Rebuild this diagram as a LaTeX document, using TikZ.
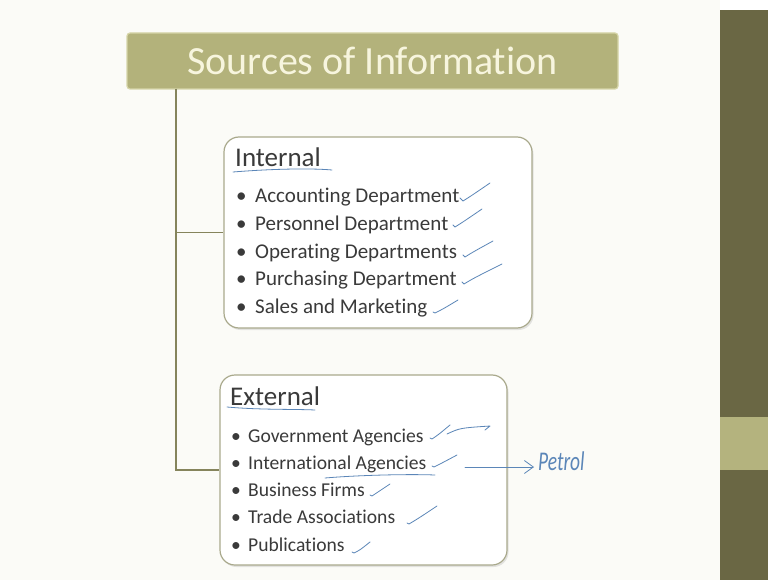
\documentclass[tikz,border=0pt]{standalone}
\usepackage{fontspec}
\setmainfont{Carlito}[Ligatures=NoCommon]
\usetikzlibrary{shadows,arrows.meta}

\definecolor{titlefill}{HTML}{B3B27B}
\definecolor{titleedge}{HTML}{D6D5A8}
\definecolor{titletext}{HTML}{F7F5DE}
\definecolor{paneledge}{HTML}{A9A98C}
\definecolor{branchcol}{HTML}{85845C}
\definecolor{inktext}{HTML}{3A3A3A}
\definecolor{penblue}{HTML}{5B86B8}
\definecolor{sidebar}{HTML}{6A6744}
\definecolor{sidelight}{HTML}{B4B37E}
\definecolor{slide}{HTML}{FBFBF7}

\begin{document}
\begin{tikzpicture}[x=1pt,y=-1pt]
    % Define styles
    \tikzstyle{heading}=[draw=titleedge, line width=1.2pt, fill=titlefill, rounded corners=3pt, minimum width=491pt, minimum height=56pt, text=titletext, font=\fontsize{40}{42}\selectfont]
    \tikzstyle{panel}=[draw=paneledge, line width=1.2pt, fill=white, rounded corners=15pt, drop shadow={opacity=0.2, shadow xshift=1.5pt, shadow yshift=-2pt}]
    \tikzstyle{branch}=[draw=branchcol, line width=1.5pt]
    \tikzstyle{caption}=[anchor=base west, inner sep=0pt, text=inktext, font=\fontsize{27}{29}\selectfont]
    \tikzstyle{item}=[anchor=base west, inner sep=0pt, text=inktext, font=\fontsize{21}{23}\selectfont]
    \tikzstyle{ink}=[draw=penblue, line width=0.8pt, line cap=round, line join=round]

    % Slide background and side bar
    \useasboundingbox (0,0) rectangle (768,580);
    \fill[slide] (0,0) rectangle (720,580);
    \fill[white] (720,0) rectangle (768,10);
    \fill[sidebar] (720,10) rectangle (768,580);
    \fill[sidelight] (720,417) rectangle (768,470);

    % Title bar
    \node[heading] (title) at (372.5,61) {Sources of Information};
    \coordinate (trunk) at (176,89);

    % Boxes
    \node[panel, minimum width=308pt, minimum height=191pt] (internal) at (378,232.5) {};
    \node[panel, minimum width=287pt, minimum height=190pt] (external) at (363.5,470) {};

    % Tree lines from the title
    \draw[branch] (trunk) |- (internal.west);
    \draw[branch] (trunk) |- (external.west);

    % Internal sources
    \node[caption] (intcap) at (235,167) {Internal};
    \node[item] (acc) at (236,203) {\makebox[19pt][l]{\textbullet}Accounting Department};
    \node[item] (pers) at (236,230.5) {\makebox[19pt][l]{\textbullet}Personnel Department};
    \node[item] (oper) at (236,258) {\makebox[19pt][l]{\textbullet}Operating Departments};
    \node[item] (purch) at (236,285.5) {\makebox[19pt][l]{\textbullet}Purchasing Department};
    \node[item] (sales) at (236,313) {\makebox[19pt][l]{\textbullet}Sales and Marketing};

    % External sources
    \node[caption] (extcap) at (230,405) {External};
    \node[item, font=\fontsize{19.6}{22}\selectfont] (gov) at (231,442) {\makebox[17pt][l]{\textbullet}Government Agencies};
    \node[item, font=\fontsize{19.6}{22}\selectfont] (intl) at (231,469) {\makebox[17pt][l]{\textbullet}International Agencies};
    \node[item, font=\fontsize{19.6}{22}\selectfont] (firms) at (231,496.5) {\makebox[17pt][l]{\textbullet}Business Firms};
    \node[item, font=\fontsize{19.6}{22}\selectfont] (trade) at (231,523.5) {\makebox[17pt][l]{\textbullet}Trade Associations};
    \node[item, font=\fontsize{19.6}{22}\selectfont] (pubs) at (231,551) {\makebox[17pt][l]{\textbullet}Publications};

    % Pen marks: underlines
    \draw[ink] (233,172) .. controls (270,169) and (310,168) .. (332,170);
    \draw[ink] (227,407) .. controls (260,410) and (295,409) .. (315,410);
    \draw[ink] (325,478) .. controls (360,475) and (410,474) .. (435,475);

    % Pen marks: ticks
    \draw[ink] (460,198) -- ++(3,3) .. controls +(8,-5) .. (490,183);
    \draw[ink] (453,225) -- ++(2,2) .. controls +(8,-5) .. (482,209);
    \draw[ink] (463,255) -- ++(2,2) .. controls +(8,-5) .. (493,241);
    \draw[ink] (462,282) -- ++(2,2) .. controls +(10,-6) .. (502,264);
    \draw[ink] (433,312) -- ++(2,1) .. controls +(8,-4) .. (458,300);
    \draw[ink] (430,438) -- ++(2,1) .. controls +(6,-4) .. (450,425);
    \draw[ink] (447,434) .. controls (460,428) .. (490,426) -- (485,430);
    \draw[ink] (432,466) -- ++(2,1) .. controls +(8,-4) .. (457,455);
    \draw[ink] (370,495) -- ++(2,1) .. controls +(6,-4) .. (390,484);
    \draw[ink] (407,523) -- ++(2,1) .. controls +(10,-6) .. (437,506);
    \draw[ink] (352,552) -- ++(2,1) .. controls +(6,-3) .. (370,542);

    % Note on international agencies
    \node[anchor=west, inner sep=0pt, text=penblue, font=\fontsize{27}{29}\selectfont\itshape] (petrol) at (538,461) {\scalebox{0.72}[1]{Petrol}};
    \coordinate (petrolfrom) at (465,467);
    \draw[ink, -{Straight Barb[length=9pt,width=13pt]}] (petrolfrom) -- ([xshift=-4pt]petrol.west |- petrolfrom);
\end{tikzpicture}
\end{document}
